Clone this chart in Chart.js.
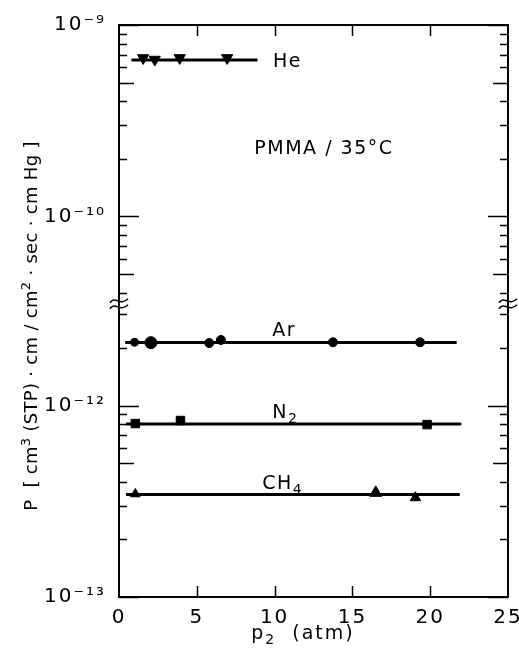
<!DOCTYPE html>
<html lang="en">
<head>
<meta charset="UTF-8">
<title>PMMA / 35°C permeability</title>
<script src="https://cdn.jsdelivr.net/npm/chart.js"></script>
<style>
  html, body { margin: 0; padding: 0; background: #fff; }
</style>
</head>
<body>
<canvas id="permChart" width="519" height="658"></canvas>
<script>
// upstream pressure p2 (atm) and permeability P
const heP2  = [1.55, 2.3, 3.9, 6.95];
const heP   = [6.73e-10, 6.6e-10, 6.73e-10, 6.73e-10];
const arP2  = [1.0, 2.05, 5.8, 6.55, 13.75, 19.35];
const arP   = [2.14e-12, 2.13e-12, 2.12e-12, 2.2e-12, 2.14e-12, 2.14e-12];
const n2P2  = [1.05, 3.95, 19.8];
const n2P   = [8.05e-13, 8.35e-13, 7.95e-13];
const ch4P2 = [1.05, 16.5, 19.05];
const ch4P  = [3.45e-13, 3.5e-13, 3.3e-13];

// drawn horizontal lines, one per gas
const fitGas   = ['He', 'Ar', 'N2', 'CH4'];
const fitLevel = [6.57e-10, 2.136e-12, 8.0e-13, 3.43e-13];
const fitFrom  = [0.8, 0.4, 0.45, 0.45];
const fitTo    = [8.9, 21.7, 22.0, 21.9];

// axes (the y axis is broken: one decade around 1e-11 is cut out)
const xTicks      = [0, 5, 10, 15, 20, 25];
const yTicksUpper = [4e-11, 5e-11, 6e-11, 7e-11, 8e-11, 9e-11, 1e-10, 2e-10, 3e-10, 4e-10, 5e-10, 6e-10, 7e-10, 8e-10, 9e-10, 1e-9];
const yTicksLower = [1e-13, 2e-13, 3e-13, 4e-13, 5e-13, 6e-13, 7e-13, 8e-13, 9e-13, 1e-12, 2e-12, 3e-12];
const upperMin = 3.5e-11, upperMax = 1e-9;
const lowerMin = 1e-13,   lowerMax = 3.4e-12;

const FONT = 'DejaVu Sans';
const SUP = {'-': '⁻', '0': '⁰', '1': '¹', '2': '²', '3': '³', '4': '⁴', '5': '⁵', '6': '⁶', '7': '⁷', '8': '⁸', '9': '⁹'};

const mantissa = v => Math.round(v / Math.pow(10, Math.floor(Math.log10(v) + 1e-6)));
const expOf = v => Math.floor(Math.log10(v) + 1e-6);
const powLabel = v => mantissa(v) === 1 ? '10' + String(expOf(v)).split('').map(c => SUP[c]).join('') : '';

const pts = (xs, ys) => xs.map((x, i) => ({x, y: ys[i]}));
const upperGas = g => g === 'He';

const fitSets = fitGas.map((g, i) => ({
  label: g + ' fit',
  data: [{x: fitFrom[i], y: fitLevel[i]}, {x: fitTo[i], y: fitLevel[i]}],
  yAxisID: upperGas(g) ? 'yTop' : 'yBot',
  showLine: true, borderColor: '#000', borderWidth: 3, pointRadius: 0
}));

const markerSets = [
  {label: 'He', data: pts(heP2, heP), yAxisID: 'yTop', pointStyle: 'triangle', rotation: 180, pointRadius: 6.5},
  {label: 'Ar', data: pts(arP2, arP), yAxisID: 'yBot', pointStyle: 'circle', pointRadius: [4, 6, 4.5, 4.5, 4.5, 4.5]},
  {label: 'N2', data: pts(n2P2, n2P), yAxisID: 'yBot', pointStyle: 'rect', pointRadius: 6},
  {label: 'CH4', data: pts(ch4P2, ch4P), yAxisID: 'yBot', pointStyle: 'triangle', pointRadius: [5.5, 7, 6]}
].map(d => Object.assign(d, {backgroundColor: '#000', borderColor: '#000', borderWidth: 1, showLine: false}));

// text written inside the plot, anchored in data units; [text, 'sub'|'sup'|''] parts
const notes = [
  {parts: [['He', '']],              x: 9.9,  y: 6.57e-10, axis: 'yTop'},
  {parts: [['PMMA / 35°C', '']],     x: 8.7,  y: 2.3e-10,  axis: 'yTop'},
  {parts: [['Ar', '']],              x: 9.85, y: 2.5e-12,  axis: 'yBot'},
  {parts: [['N', ''], ['2', 'sub']], x: 9.85, y: 9.4e-13,  axis: 'yBot'},
  {parts: [['CH', ''], ['4', 'sub']], x: 9.2, y: 4.0e-13,  axis: 'yBot'}
];
const yTitle = [['P  [ cm', ''], ['3', 'sup'], [' (STP) · cm / cm', ''], ['2', 'sup'], [' · sec · cm Hg ]', '']];
const xTitle = [['p', ''], ['2', 'sub'], ['  (atm)', '']];

function richWidth(ctx, parts, size) {
  let w = 0;
  parts.forEach(([t, k]) => {
    ctx.font = (k ? Math.round(size * 0.72) : size) + 'px "' + FONT + '"';
    w += ctx.measureText(t).width;
  });
  return w;
}

function drawRich(ctx, parts, x, y, size, align) {
  let cx = align === 'center' ? x - richWidth(ctx, parts, size) / 2 : x;
  ctx.textAlign = 'left';
  ctx.textBaseline = 'alphabetic';
  parts.forEach(([t, k]) => {
    const s = k ? Math.round(size * 0.72) : size;
    ctx.font = s + 'px "' + FONT + '"';
    const dy = k === 'sub' ? size * 0.28 : (k === 'sup' ? -size * 0.42 : 0);
    ctx.fillText(t, cx, y + size * 0.36 + dy);
    cx += ctx.measureText(t).width;
  });
}

const spacing = {
  id: 'spacing',
  beforeLayout(c) { c.ctx.letterSpacing = '2px'; },
  beforeDraw(c) { c.ctx.letterSpacing = '2px'; }
};

const frame = {
  id: 'frame',
  afterDraw(c) {
    const ctx = c.ctx, a = c.chartArea;
    const x = c.scales.x, yTop = c.scales.yTop, yBot = c.scales.yBot;
    ctx.save();
    ctx.strokeStyle = '#000';
    ctx.lineWidth = 2;
    ctx.strokeRect(a.left, a.top, a.right - a.left, a.bottom - a.top);

    // inward ticks on all four sides
    ctx.lineWidth = 1.5;
    ctx.beginPath();
    [[yTop, yTicksUpper], [yBot, yTicksLower]].forEach(([s, list]) => {
      list.forEach(v => {
        const m = mantissa(v);
        const len = m === 1 ? 20 : (m === 5 ? 15 : 8);
        const py = Math.round(s.getPixelForValue(v)) + 0.5;
        ctx.moveTo(a.left, py); ctx.lineTo(a.left + len, py);
        ctx.moveTo(a.right, py); ctx.lineTo(a.right - len, py);
      });
    });
    xTicks.slice(1, -1).forEach(v => {
      const px = Math.round(x.getPixelForValue(v)) + 0.5;
      ctx.moveTo(px, a.bottom); ctx.lineTo(px, a.bottom - 11);
      ctx.moveTo(px, a.top); ctx.lineTo(px, a.top + 11);
    });
    ctx.stroke();

    // break marks
    const by = yTop.bottom;
    [a.left, a.right].forEach(ax => {
      [-3, 3].forEach(dy => {
        ctx.beginPath();
        ctx.moveTo(ax - 9, by + dy + 2);
        ctx.bezierCurveTo(ax - 4, by + dy - 6, ax + 1, by + dy + 6, ax + 9, by + dy - 2);
        ctx.stroke();
      });
    });

    // labels inside the plot
    ctx.fillStyle = '#000';
    ctx.letterSpacing = '1.5px';
    notes.forEach(n => {
      drawRich(ctx, n.parts, x.getPixelForValue(n.x), c.scales[n.axis].getPixelForValue(n.y), 19, 'left');
    });

    // axis titles
    ctx.letterSpacing = '2px';
    drawRich(ctx, xTitle, 303, 632, 19, 'center');
    ctx.translate(31, 326);
    ctx.rotate(-Math.PI / 2);
    ctx.letterSpacing = '0.3px';
    drawRich(ctx, yTitle, 0, 0, 18, 'center');
    ctx.restore();
  }
};

const yScale = (min, max, list, weight) => ({
  type: 'logarithmic',
  position: 'left',
  stack: 'perm',
  stackWeight: Math.log10(max / min),
  weight,
  min, max,
  afterBuildTicks: s => { s.ticks = list.map(v => ({value: v})); },
  afterFit: s => { s.width = 119; s.paddingTop = 0; s.paddingBottom = 0; },
  grid: {display: false},
  border: {display: false},
  ticks: {
    color: '#000', autoSkip: false, padding: 5,
    font: {family: FONT, size: 20},
    callback: v => powLabel(v)
  }
});

new Chart(document.getElementById('permChart'), {
  type: 'scatter',
  data: {datasets: [...fitSets, ...markerSets]},
  options: {
    responsive: false,
    animation: false,
    devicePixelRatio: 1,
    layout: {padding: {top: 25, right: 11, left: 0, bottom: 0}},
    plugins: {legend: {display: false}, tooltip: {enabled: false}},
    scales: {
      x: {
        type: 'linear', position: 'bottom', min: 0, max: 25,
        afterBuildTicks: s => { s.ticks = xTicks.map(v => ({value: v})); },
        afterFit: s => { s.height = 61; s.paddingLeft = 0; s.paddingRight = 0; },
        grid: {display: false},
        border: {display: false},
        ticks: {color: '#000', autoSkip: false, maxRotation: 0, padding: 1, font: {family: FONT, size: 20}}
      },
      yTop: yScale(upperMin, upperMax, yTicksUpper, 1),
      yBot: yScale(lowerMin, lowerMax, yTicksLower, 0)
    }
  },
  plugins: [spacing, frame]
});
</script>
</body>
</html>
